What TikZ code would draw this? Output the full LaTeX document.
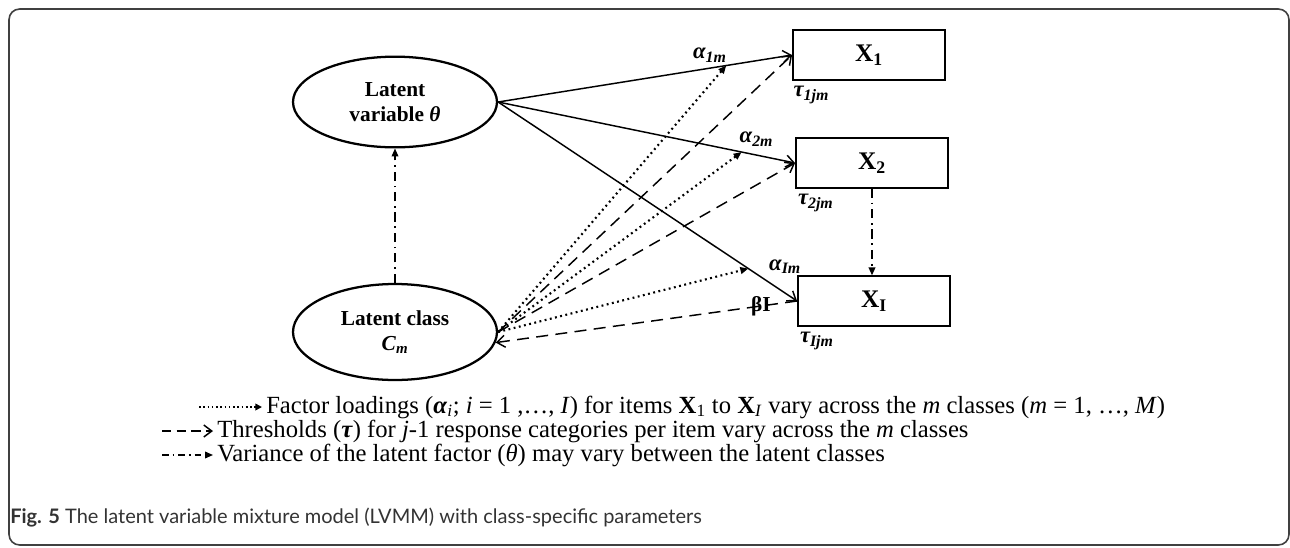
\documentclass[tikz,border=0pt]{standalone}
\usepackage{fontspec}
\setmainfont{Liberation Serif}
\newfontfamily\capfont{Lato}
\usetikzlibrary{positioning, arrows.meta, calc, shapes.geometric}

\begin{document}
\begin{tikzpicture}[x=0.75pt, y=-0.75pt, every node/.style={align=center}]
    \tikzset{latent/.style={ellipse,draw,line width=1.7pt,minimum width=153pt,minimum height=68pt,inner sep=0pt,font=\fontsize{16}{19}\selectfont\bfseries},
      itembox/.style={draw,line width=1.4pt,minimum width=114pt,minimum height=37pt,font=\fontsize{19}{22}\selectfont\bfseries},
      parlabel/.style={font=\fontsize{17}{19}\selectfont\bfseries\itshape,inner sep=1pt},
      legtext/.style={anchor=west,inner sep=0pt,font=\fontsize{18.5}{20}\selectfont},
      loadline/.style={line width=1.1pt,-{Straight Barb[length=6pt,width=9pt,line width=1.1pt]}},
      dotarrow/.style={line width=1.6pt,dash pattern=on 1.4pt off 2.6pt,-{Triangle[length=6pt,width=5pt]}},
      threshline/.style={line width=1.1pt,dash pattern=on 9pt off 5.5pt,-{Straight Barb[length=6pt,width=9pt,line width=1.1pt]}},
      varline/.style={line width=1.1pt,dash pattern=on 7pt off 3.5pt on 1.3pt off 3.5pt,-{Triangle[length=6pt,width=5pt]}}}
    \useasboundingbox (0,0) rectangle (1290,547);
    \draw[black!75,line width=1.2pt,rounded corners=8pt] (9,9) rectangle (1289,545);
    \node[latent] (lv) at (395,102) {Latent\\variable \textit{θ}};
    \node[latent,minimum height=72pt] (lc) at (395,332) {Latent class\\\textit{C}\textsubscript{\textit{m}}};
    \node[itembox] (x1) at (869,55) {X\textsubscript{1}};
    \node[itembox] (x2) at (872,163) {X\textsubscript{2}};
    \node[itembox] (xI) at (874,301) {X\textsubscript{I}};
    \node[parlabel,below right=3pt and 0pt of x1.south west] (t1) {τ\textsubscript{1jm}};
    \node[parlabel,below right=3pt and 1pt of x2.south west] (t2) {τ\textsubscript{2jm}};
    \node[parlabel,below right=3pt and 1pt of xI.south west] (tI) {τ\textsubscript{Ijm}};
    \draw[loadline] (lv.east) -- node[parlabel,pos=.72,above=3pt] {α\textsubscript{1m}} coordinate[pos=.776] (a1) (x1.west);
    \draw[loadline] (lv.east) -- node[parlabel,pos=.87,above=5pt] {α\textsubscript{2m}} coordinate[pos=.82] (a2) (x2.west);
    \draw[loadline] (lv.east) -- node[parlabel,pos=.9,above right=4pt and 0pt] {α\textsubscript{Im}} coordinate[pos=.837] (aI) (xI.west);
    \draw[dotarrow] (lc.east) -- (a1);
    \draw[dotarrow] (lc.east) -- (a2);
    \draw[dotarrow] (lc.east) -- (aI);
    \draw[threshline] (lc.east) -- (x1.west);
    \draw[threshline] (lc.east) -- (x2.west);
    \draw[threshline] (xI.west) -- node[pos=.12,inner sep=0pt,font=\fontsize{16}{19}\selectfont\bfseries] {βI} (lc.-6);
    \draw[varline] (lc.north) -- (lv.south);
    \draw[varline] (x2.south) -- (x2.south |- xI.north);
    \coordinate (k1) at (199,407);
    \coordinate (k2) at (162,431);
    \coordinate (k3) at (162,455);
    \node[legtext] (leg1) at (266,407) {Factor loadings (\textbf{\textit{α}}\textsubscript{\textit{i}}; \textit{i} = 1 ,…, \textit{I}) for items \textbf{X}\textsubscript{1} to \textbf{X}\textsubscript{\textit{I}} vary across the \textit{m} classes (\textit{m} = 1, …, \textit{M})};
    \node[legtext] (leg2) at (217,431) {Thresholds (\textbf{\textit{τ}}) for \textit{j}-1 response categories per item vary across the \textit{m} classes};
    \node[legtext] (leg3) at (217,455) {Variance of the latent factor (\textit{θ}) may vary between the latent classes};
    \draw[dotarrow,line width=1.3pt,dash pattern=on 1.2pt off 2pt,-{Triangle[length=5pt,width=5pt]}] (k1) -- ([xshift=-3pt]leg1.west);
    \draw[threshline,dash pattern=on 7pt off 4pt] (k2) -- ([xshift=-3pt]leg2.west);
    \draw[varline,dash pattern=on 5pt off 3pt on 1.2pt off 3pt] (k3) -- ([xshift=-3pt]leg3.west);
    \node[anchor=west,inner sep=0pt,text=black!80,font=\capfont\fontsize{15}{17}\selectfont] (cap) at (10,518) {\textbf{Fig. 5} The latent variable mixture model (LVMM) with class-specific parameters};
  \end{tikzpicture}
\end{document}
